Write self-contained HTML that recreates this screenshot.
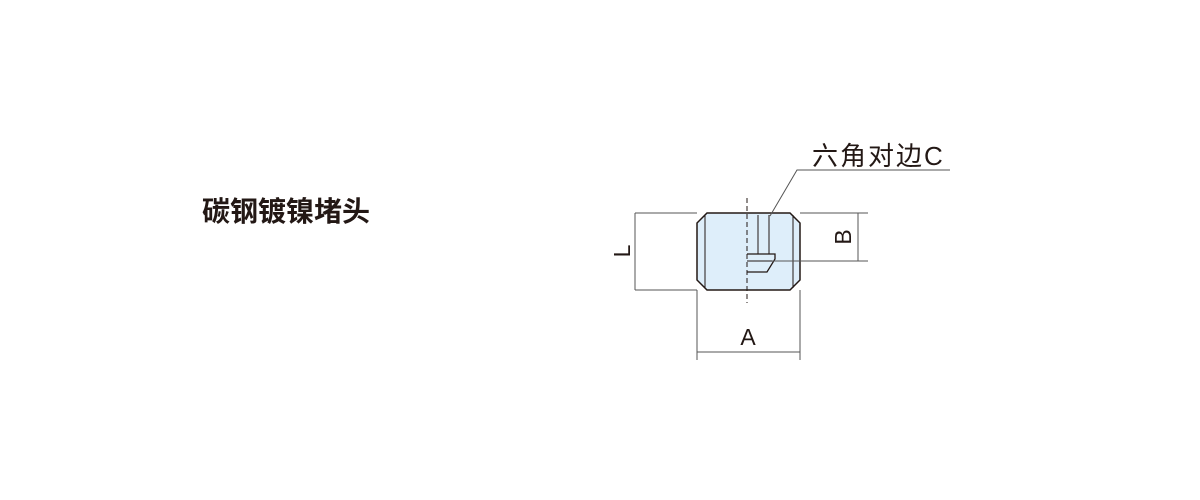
<!DOCTYPE html>
<html><head><meta charset="utf-8"><style>
html,body{margin:0;padding:0;background:#fff;}
body{width:1200px;height:500px;position:relative;overflow:hidden;}
.t{position:absolute;left:202px;top:190px;font-family:"Liberation Sans","Noto Sans CJK SC",sans-serif;font-weight:bold;font-size:28px;color:#231815;white-space:nowrap;}
</style></head><body>
<div class="t">碳钢镀镍堵头</div>
<svg width="1200" height="500" style="position:absolute;left:0;top:0" font-family="Liberation Sans, Noto Sans CJK SC, sans-serif">
<polygon points="707,213 790,213 800,223 800,280 790,290 707,290 697,280 697,223" fill="#deeefa" stroke="#231815" stroke-width="1.5"/>
<line x1="705" y1="215" x2="705" y2="288" stroke="#231815" stroke-width="1"/>
<line x1="793" y1="215" x2="793" y2="288" stroke="#231815" stroke-width="1"/>
<line x1="747" y1="198" x2="747" y2="303" stroke="#231815" stroke-width="1" stroke-dasharray="5,3"/>
<line x1="758" y1="215" x2="758" y2="254" stroke="#231815" stroke-width="1"/>
<line x1="769" y1="215" x2="769" y2="254" stroke="#231815" stroke-width="1"/>
<polyline points="747,254 775,254 775,259 767,272 747,272" fill="none" stroke="#231815" stroke-width="1.3"/>
<line x1="747" y1="261" x2="772" y2="261" stroke="#231815" stroke-width="1"/>
<g stroke="#555" stroke-width="1" fill="none">
<line x1="635" y1="213" x2="697" y2="213"/>
<line x1="635" y1="290" x2="697" y2="290"/>
<line x1="635" y1="213" x2="635" y2="290"/>
<line x1="800" y1="213" x2="868" y2="213"/>
<line x1="772" y1="261" x2="868" y2="261"/>
<line x1="858" y1="213" x2="858" y2="261"/>
<line x1="697" y1="290" x2="697" y2="360"/>
<line x1="800" y1="290" x2="800" y2="360"/>
<line x1="697" y1="352" x2="800" y2="352"/>
<polyline points="770,216 797,170 950,170"/>
</g>
<text x="812" y="165" font-size="26" letter-spacing="2" fill="#231815">六角对边C</text>
<text x="748" y="345" font-size="23" fill="#231815" text-anchor="middle">A</text>
<text transform="translate(851,237) rotate(-90)" font-size="23" fill="#231815" text-anchor="middle">B</text>
<text transform="translate(630,251) rotate(-90)" font-size="23" fill="#231815" text-anchor="middle">L</text>
</svg>
</body></html>
